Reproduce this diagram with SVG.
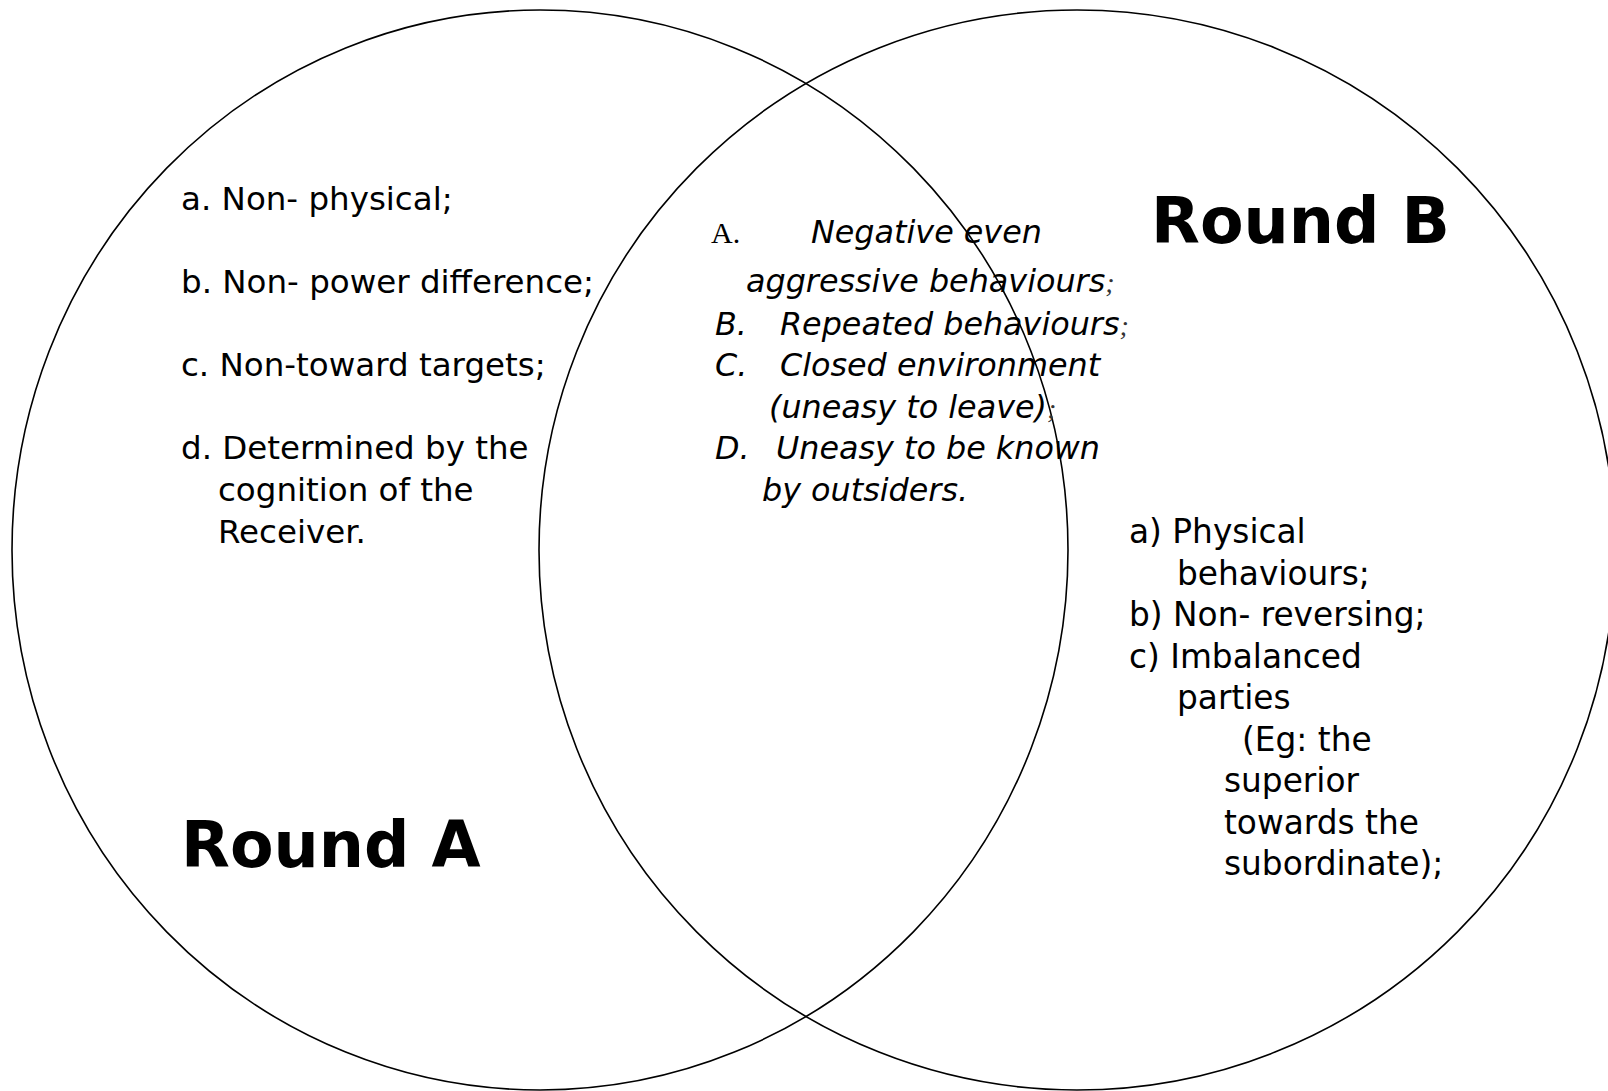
<svg xmlns="http://www.w3.org/2000/svg" width="1608" height="1091" viewBox="0 0 1608 1091">
<style>
.ring{fill:none;stroke:#000;stroke-width:1.6}
.t{font-family:"DejaVu Sans","Liberation Sans",sans-serif;font-size:32.5px;fill:#000}
.tr{font-family:"DejaVu Sans","Liberation Sans",sans-serif;font-size:32.8px;fill:#000}
.it{font-family:"DejaVu Sans","Liberation Sans",sans-serif;font-size:31.8px;font-style:italic;fill:#000}
.sm{font-family:"Liberation Serif",serif;font-size:28px;font-style:italic;fill:#333}
.ser{font-family:"Liberation Serif",serif;font-size:30px;fill:#000}
.big{font-family:"DejaVu Sans","Liberation Sans",sans-serif;font-size:63.5px;font-weight:bold;fill:#000}
</style>
<rect x="0" y="0" width="1608" height="1091" fill="#fff"/>
<g id="round-a">
<ellipse class="ring" cx="540" cy="550" rx="528" ry="540"/>
<text class="t" x="181" y="210">a. Non- physical;</text>
<text class="t" x="181" y="293">b. Non- power difference;</text>
<text class="t" x="181" y="376">c. Non-toward targets;</text>
<text class="t" x="181" y="459">d. Determined by the</text>
<text class="t" x="218" y="501">cognition of the</text>
<text class="t" x="218" y="543">Receiver.</text>
<text class="big" x="181" y="867">Round A</text>
</g>
<g id="round-b">
<ellipse class="ring" cx="1077" cy="550" rx="538" ry="540"/>
<text class="big" x="1151" y="243">Round B</text>
<text class="tr" x="1129" y="543">a) Physical</text>
<text class="tr" x="1177" y="584.5">behaviours;</text>
<text class="tr" x="1129" y="626">b) Non- reversing;</text>
<text class="tr" x="1129" y="667.5">c) Imbalanced</text>
<text class="tr" x="1177" y="709">parties</text>
<text class="tr" x="1242" y="750.5">(Eg: the</text>
<text class="tr" x="1224" y="792">superior</text>
<text class="tr" x="1224" y="833.5">towards the</text>
<text class="tr" x="1224" y="875">subordinate);</text>
</g>
<g id="overlap">
<text class="ser" x="711" y="243">A.</text>
<text class="it" x="811" y="243">Negative even</text>
<text class="it" x="746" y="292">aggressive behaviours<tspan class="sm">;</tspan></text>
<text class="it" x="715" y="334.5">B.</text>
<text class="it" x="780" y="334.5">Repeated behaviours<tspan class="sm">;</tspan></text>
<text class="it" x="715" y="376">C.</text>
<text class="it" x="780" y="376">Closed environment</text>
<text class="it" x="769" y="417.5">(uneasy to leave)<tspan class="sm">;</tspan></text>
<text class="it" x="715" y="459">D.</text>
<text class="it" x="776" y="459">Uneasy to be known</text>
<text class="it" x="762" y="500.5">by outsiders.</text>
</g>
<g id="connectors"></g>
</svg>
